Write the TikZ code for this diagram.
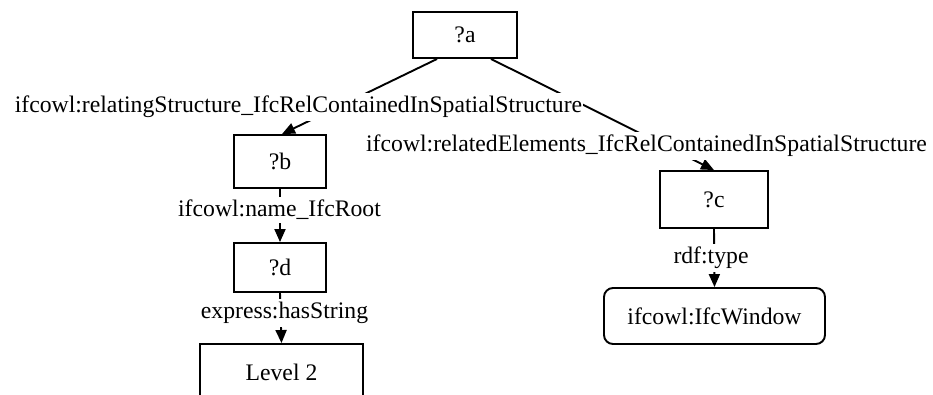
\documentclass[tikz,border=0pt]{standalone}
\usepackage{fontspec}
\setmainfont{Liberation Serif}
\usetikzlibrary{arrows.meta}
\begin{document}
\begin{tikzpicture}[x=1pt,y=-1pt,
  every node/.style={font=\fontsize{23.7}{28}\selectfont, inner sep=0pt},
  box/.style={draw, line width=1.9pt, rectangle},
  rbox/.style={draw, line width=1.9pt, rectangle, rounded corners=9pt},
  lbl/.style={fill=white, inner xsep=1pt, inner ysep=3pt},
  edge/.style={line width=1.9pt, -{Triangle[length=13pt,width=11pt]}}]
\clip (0,0) rectangle (933,394);
\useasboundingbox (0,0) rectangle (933,394);
\fill[white] (0,0) rectangle (933,394);
\node[box, minimum width=104pt, minimum height=46pt] (a) at (465,35) {?a};
\node[box, minimum width=92pt, minimum height=53pt] (b) at (280,161.5) {?b};
\node[box, minimum width=92pt, minimum height=49pt] (d) at (280,267.5) {?d};
\node[box, minimum width=108pt, minimum height=57pt] (c) at (714,199.5) {?c};
\node[rbox, minimum width=221pt, minimum height=56pt] (w) at (714.5,316) {ifcowl:IfcWindow};
\node[box, minimum width=163pt, minimum height=56pt] (l) at (281.5,372) {Level 2};
\draw[edge] ([xshift=25pt]a.south west) -- ([xshift=2pt]b.north);
\draw[edge] ([xshift=-27pt]a.south east) -- (c.north);
\draw[edge] (b.south) -- (d.north);
\draw[edge] (d.south) -- (l.north);
\draw[edge] (c.south) -- (w.north);
\node[lbl] (l1) at (298.5,107) {ifcowl:relatingStructure\_IfcRelContainedInSpatialStructure};
\node[lbl] (l2) at (646.5,146) {ifcowl:relatedElements\_IfcRelContainedInSpatialStructure};
\node[lbl] (l3) at (279.5,210) {ifcowl:name\_IfcRoot};
\node[lbl] (l4) at (284.5,313) {express:hasString};
\node[lbl] (l5) at (711,258) {rdf:type};
\end{tikzpicture}
\end{document}
